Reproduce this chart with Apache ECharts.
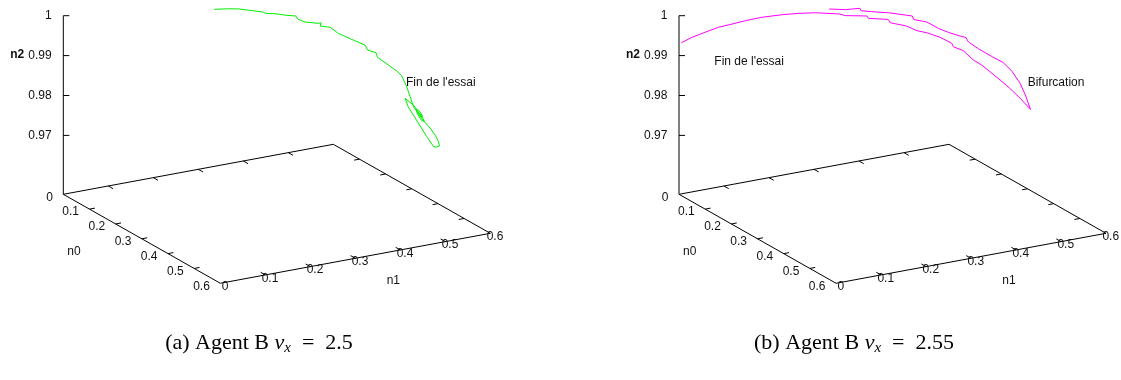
<!DOCTYPE html>
<html>
<head>
<meta charset="utf-8">
<script src="https://cdn.jsdelivr.net/npm/echarts@6/dist/echarts.min.js"></script>
<style>
html,body{margin:0;padding:0;background:#fff;}
#chart{width:1121px;height:380px;}
</style>
</head>
<body>
<div id="chart"></div>
<script>
// ---------------- DATA ----------------
// Panel (a): Agent B vx = 2.5 — trajectory (n0, n1, n2)
const n0_a = [0.102,0.115,0.124,0.127,0.136,0.140,0.152,0.156,0.166,0.170,0.178,0.187,0.193,0.204,0.218,0.220,0.223,0.234,0.249,0.270,0.289,0.298,0.309,0.317,0.334,0.352,0.363,0.382,0.397,0.413,0.436,0.456,0.470,0.481,0.488,0.486,0.483,0.464,0.433,0.408,0.395,0.394,0.411,0.424,0.438,0.442,0.437,0.425,0.419,0.426,0.435,0.435,0.426,0.425,0.431];
const n1_a = [0.276,0.300,0.317,0.319,0.334,0.336,0.356,0.359,0.376,0.378,0.393,0.408,0.409,0.419,0.440,0.445,0.441,0.457,0.466,0.484,0.502,0.503,0.515,0.514,0.525,0.536,0.541,0.541,0.540,0.538,0.543,0.550,0.553,0.554,0.552,0.546,0.542,0.538,0.533,0.529,0.530,0.534,0.539,0.542,0.545,0.545,0.541,0.539,0.541,0.545,0.546,0.543,0.542,0.544,0.545];
const n2_a = [0.99963,0.99974,0.99969,0.99950,0.99944,0.99918,0.99912,0.99888,0.99880,0.99843,0.99850,0.99837,0.99775,0.99724,0.99700,0.99711,0.99649,0.99625,0.99512,0.99399,0.99292,0.99198,0.99147,0.99061,0.98935,0.98809,0.98709,0.98508,0.98320,0.98132,0.97914,0.97726,0.97600,0.97474,0.97393,0.97375,0.97380,0.97568,0.97882,0.98132,0.98290,0.98320,0.98164,0.98038,0.97901,0.97854,0.97882,0.98014,0.98089,0.98033,0.97939,0.97920,0.98014,0.98042,0.97976];

// Panel (b): Agent B vx = 2.55 — trajectory (n0, n1, n2)
const n0_b = [0.101,0.117,0.129,0.133,0.144,0.162,0.165,0.188,0.194,0.209,0.229,0.243,0.258,0.266,0.274,0.292,0.315,0.332,0.352,0.375,0.395,0.418,
              0.394,0.372,0.352,0.332,0.316,0.301,0.280,0.266,0.260,0.241,0.223,0.211,0.195,0.176,0.170,0.150,0.145,0.124,0.117,0.093,0.078,0.064,0.048,0.037,0.029,0.020,0.014,0.008,0.005];
const n1_b = [0.275,0.302,0.327,0.327,0.344,0.372,0.373,0.409,0.409,0.429,0.444,0.458,0.474,0.483,0.484,0.496,0.513,0.527,0.535,0.540,0.540,0.538,
              0.529,0.519,0.509,0.498,0.489,0.479,0.469,0.455,0.455,0.440,0.421,0.406,0.392,0.367,0.366,0.334,0.333,0.297,0.289,0.249,0.221,0.192,0.156,0.126,0.101,0.076,0.051,0.024,0.002];
const n2_b = [0.99969,0.99956,0.99982,0.99937,0.99918,0.99899,0.99865,0.99837,0.99771,0.99724,0.99602,0.99527,0.99461,0.99433,0.99348,0.99217,0.99072,0.98963,0.98803,0.98572,0.98352,0.98083,
              0.98290,0.98478,0.98634,0.98790,0.98916,0.99010,0.99185,0.99260,0.99324,0.99437,0.99523,0.99561,0.99649,0.99711,0.99775,0.99794,0.99837,0.99843,0.99875,0.99899,0.99888,0.99862,0.99813,0.99749,0.99687,0.99625,0.99536,0.99437,0.99335];

// Axis ticks
const zTicks = [0.97, 0.98, 0.99, 1];
const zTickLabels = ['0.97', '0.98', '0.99', '1'];
const baseTicks = [0, 0.1, 0.2, 0.3, 0.4, 0.5, 0.6];
const baseTickLabels = ['0', '0.1', '0.2', '0.3', '0.4', '0.5', '0.6'];
const axisMax = 0.6;

const captions = [
  {tag: '(a) Agent B ', v: '2.5'},
  {tag: '(b) Agent B ', v: '2.55'}
];

// ---------------- LAYOUT (3D projection, screen units) ----------------
const PANEL_LEFT = [0, 615.7];
const PW = 500, PH = 330;
const O = [63.3, 194.3];        // origin of base plane (n0=0,n1=0)
const E0 = [261.7, 148.3];      // screen vector per unit n0
const E1 = [450, -83.3];        // screen vector per unit n1
const ZH = 178.6;               // height of z=1 above base plane
const ZS = 3990;                // screen units per unit n2
function B(a, b) { return [O[0] + E0[0]*a + E1[0]*b, O[1] + E0[1]*a + E1[1]*b]; }
function P(a, b, z) { const p = B(a, b); return [p[0], p[1] - (ZH - (1 - z) * ZS)]; }

const FONT = '12px "Liberation Sans", Arial, sans-serif';
const TL0 = 0.018, TL1 = 0.012;

function segSeries(i, segs, color) {
  return {
    type: 'custom', xAxisIndex: i, yAxisIndex: i, silent: true, animation: false, clip: false,
    data: segs.map(s => [s[0][0], s[0][1], s[1][0], s[1][1]]),
    encode: {x: [0, 2], y: [1, 3]},
    renderItem: (params, api) => {
      const a = api.coord([api.value(0), api.value(1)]);
      const b = api.coord([api.value(2), api.value(3)]);
      return {type: 'line', shape: {x1: a[0], y1: a[1], x2: b[0], y2: b[1]},
              style: {stroke: color, lineWidth: 1}};
    }
  };
}
function textSeries(i, pts, texts, dx, dy, align) {
  return {
    type: 'custom', xAxisIndex: i, yAxisIndex: i, silent: true, animation: false, clip: false,
    data: pts, encode: {x: 0, y: 1},
    renderItem: (params, api) => {
      const p = api.coord([api.value(0), api.value(1)]);
      return {type: 'text', x: p[0] + dx, y: p[1] + dy,
              style: {text: texts[params.dataIndex], font: FONT, fill: '#111', align: align, verticalAlign: 'middle'}};
    }
  };
}

function panelSeries(i, n0, n1, n2, color) {
  const segs = [
    [B(0, 0), B(axisMax, 0)], [B(axisMax, 0), B(axisMax, axisMax)],
    [B(axisMax, axisMax), B(0, axisMax)], [B(0, axisMax), B(0, 0)],
    [B(0, 0), P(0, 0, 1)]
  ];
  zTicks.forEach(z => { const p = P(0, 0, z); segs.push([p, [p[0] + 6, p[1]]]); });
  baseTicks.slice(1, -1).forEach(v => {
    segs.push([B(v, 0), B(v, TL1)]);
    segs.push([B(v, axisMax), B(v, axisMax - TL1)]);
    segs.push([B(axisMax, v), B(axisMax - TL0, v)]);
    segs.push([B(0, v), B(TL0, v)]);
  });
  const curve = n0.map((_, k) => P(n0[k], n1[k], n2[k]));
  return [
    segSeries(i, segs, '#000'),
    textSeries(i, zTicks.map(z => P(0, 0, z)), zTickLabels, -11.6, 0, 'right'),
    textSeries(i, baseTicks.map(v => B(v, 0)), baseTickLabels, -10.5, 3, 'right'),
    textSeries(i, baseTicks.map(v => B(axisMax, v)), baseTickLabels, 4.7, 3.3, 'center'),
    {type: 'line', xAxisIndex: i, yAxisIndex: i, data: curve, showSymbol: false, symbol: 'none',
     lineStyle: {color: color, width: 1}, itemStyle: {color: color}, animation: false, silent: true, clip: false}
  ];
}

const grids = [0, 1].map(i => ({left: PANEL_LEFT[i], top: 0, width: PW, height: PH}));
const xAxes = [0, 1].map(i => ({type: 'value', gridIndex: i, min: 0, max: PW, show: false}));
const yAxes = [0, 1].map(i => ({type: 'value', gridIndex: i, min: 0, max: PH, inverse: true, show: false}));

function txt(x, y, text, align, bold) {
  return {type: 'text', x: x, y: y, silent: true,
          style: {text: text, font: (bold ? 'bold ' : '') + FONT, fill: '#111', align: align, verticalAlign: 'middle'}};
}
const graphics = [];
[0, 1].forEach(i => {
  const L = PANEL_LEFT[i];
  graphics.push(txt(L + 17.2, 55, 'n2', 'center', true));
  graphics.push(txt(L + 74, 252, 'n0', 'center', false));
  graphics.push(txt(L + 393.3, 280.7, 'n1', 'center', false));
});
graphics.push(txt(406, 82.7, "Fin de l'essai", 'left', false));
graphics.push(txt(714.3, 62, "Fin de l'essai", 'left', false));
graphics.push(txt(1027.7, 82.7, 'Bifurcation', 'left', false));
const capX = [259, 854];
captions.forEach((c, i) => {
  graphics.push({
    type: 'text', x: capX[i], y: 343, silent: true,
    style: {
      text: '{r|' + c.tag + '}{i|v}{s|x}{r|\u2002=\u2002' + c.v + '}',
      align: 'center', verticalAlign: 'middle',
      rich: {
        r: {fontFamily: '"Liberation Serif", serif', fontSize: 22, fill: '#000', lineHeight: 25},
        i: {fontFamily: '"Liberation Serif", serif', fontSize: 22, fontStyle: 'italic', fill: '#000', lineHeight: 25},
        s: {fontFamily: '"Liberation Serif", serif', fontSize: 15, fontStyle: 'italic', fill: '#000', lineHeight: 14, verticalAlign: 'bottom'}
      }
    }
  });
});

const chart = echarts.init(document.getElementById('chart'), null, {renderer: 'canvas'});
chart.setOption({
  backgroundColor: '#fff',
  animation: false,
  grid: grids, xAxis: xAxes, yAxis: yAxes,
  series: [].concat(panelSeries(0, n0_a, n1_a, n2_a, '#00ee00'), panelSeries(1, n0_b, n1_b, n2_b, '#ff00ff')),
  graphic: graphics
});
</script>
</body>
</html>
